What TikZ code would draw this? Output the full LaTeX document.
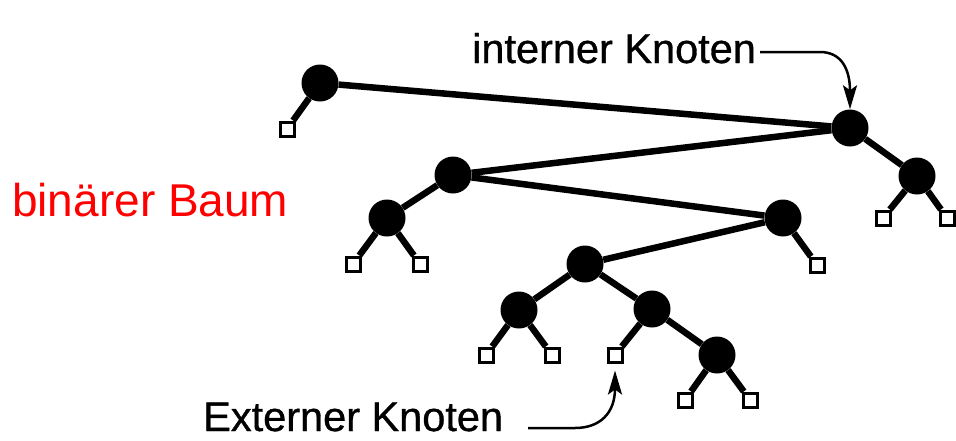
\documentclass[tikz,border=0pt]{standalone}
\usepackage{fontspec}
\setmainfont{Liberation Sans}
\newfontfamily\lblfont[FakeBold=0.8]{Liberation Sans}
\usetikzlibrary{arrows.meta}
\begin{document}
\begin{tikzpicture}[x=1pt,y=-1pt,
  inode/.style={circle,fill=black,minimum size=37pt,inner sep=0pt},
  enode/.style={rectangle,draw=black,fill=white,line width=3pt,minimum size=14pt,inner sep=0pt},
  edge/.style={line width=6.5pt},
  lbl/.style={inner sep=0pt,anchor=base west,font=\lblfont\fontsize{41.5}{45}\selectfont},
  pointer/.style={line width=2.5pt,-{Stealth[length=24pt,width=14pt,inset=5pt]}}]
\useasboundingbox (0,0) rectangle (956,440);
% internal nodes
\node[inode] (A) at (320,83) {};
\node[inode] (B) at (850,128) {};
\node[inode] (C) at (917,176) {};
\node[inode] (D) at (453,175) {};
\node[inode] (E) at (387,218) {};
\node[inode] (F) at (783,218) {};
\node[inode] (G) at (585,264) {};
\node[inode] (H) at (519,310) {};
\node[inode] (I) at (652,309) {};
\node[inode] (J) at (717,355) {};
% external nodes
\node[enode] (a1) at (287,129) {};
\node[enode] (c1) at (883,218) {};
\node[enode] (c2) at (947,218) {};
\node[enode] (e1) at (353,264) {};
\node[enode] (e2) at (420,264) {};
\node[enode] (f2) at (817,265) {};
\node[enode] (h1) at (486,355) {};
\node[enode] (h2) at (552,355) {};
\node[enode] (i1) at (615,355) {};
\node[enode] (j1) at (685,400) {};
\node[enode] (j2) at (750,400) {};
% edges
\draw[edge] (A) -- (a1);
\draw[edge] (A) -- (B);
\draw[edge] (B) -- (C);
\draw[edge] (B) -- (D);
\draw[edge] (C) -- (c1);
\draw[edge] (C) -- (c2);
\draw[edge] (D) -- (E);
\draw[edge] (D) -- (F);
\draw[edge] (E) -- (e1);
\draw[edge] (E) -- (e2);
\draw[edge] (F) -- (G);
\draw[edge] (F) -- (f2);
\draw[edge] (G) -- (H);
\draw[edge] (G) -- (I);
\draw[edge] (H) -- (h1);
\draw[edge] (H) -- (h2);
\draw[edge] (I) -- (i1);
\draw[edge] (I) -- (J);
\draw[edge] (J) -- (j1);
\draw[edge] (J) -- (j2);
% labels
\node[lbl] (intl) at (472,63) {interner Knoten};
\node[lbl] (extl) at (203,431) {Externer Knoten};
\node[inner sep=0pt,anchor=base west,text=red,font=\fontsize{46}{50}\selectfont] (title) at (12,216) {binärer Baum};
% pointers
\coordinate (ia) at (760,52);
\coordinate (ea) at (528,428);
\draw[pointer] (ia) -- (820,52) .. controls (842,52) and (850,70) .. (B.north);
\draw[pointer,shorten >=7pt] (ea) -- (575,428) .. controls (600,428) and (615,413) .. (i1.south);
\end{tikzpicture}
\end{document}
